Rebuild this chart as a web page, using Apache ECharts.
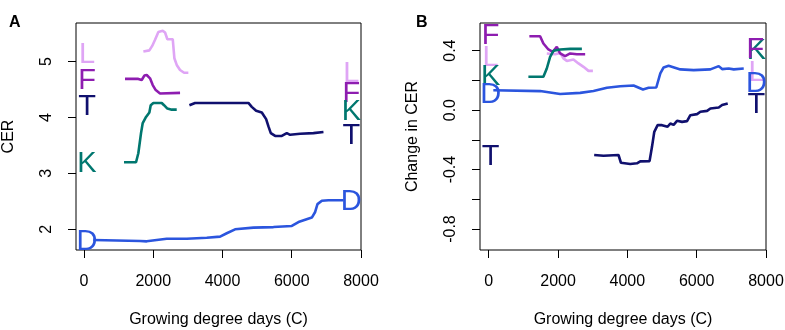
<!DOCTYPE html>
<html>
<head>
<meta charset="utf-8">
<script src="https://cdn.jsdelivr.net/npm/echarts@6/dist/echarts.min.js"></script>
<style>html,body{margin:0;padding:0;background:#fff}#c{width:785px;height:330px}</style>
</head>
<body>
<div id="c"></div>
<script>
// ---- tick labels ----
const xTicks = [0, 2000, 4000, 6000, 8000];
const yTicksA = [2, 3, 4, 5];
const yTicksB = [-0.8, -0.6, -0.4, -0.2, 0, 0.2, 0.4];
const yLabelsB = [-0.8, -0.4, 0, 0.4];

// ---- Panel A: CER ----
const cerL = [[1714,5.18],[1888,5.20],[1970,5.28],[2052,5.39],[2148,5.53],[2274,5.55],[2341,5.52],[2408,5.40],[2563,5.40],[2610,5.06],[2678,4.94],[2774,4.85],[2890,4.80],[3014,4.80]];
const cerF = [[1185,4.69],[1569,4.69],[1667,4.67],[1743,4.75],[1811,4.76],[1907,4.70],[1985,4.58],[2072,4.49],[2196,4.43],[2774,4.44]];
const cerK = [[1156,3.20],[1503,3.20],[1569,3.36],[1647,3.72],[1696,3.90],[1792,4.01],[1888,4.09],[1927,4.22],[2003,4.26],[2245,4.26],[2312,4.22],[2408,4.16],[2533,4.14],[2678,4.14]];
const cerT = [[3044,4.22],[3208,4.26],[3737,4.26],[4748,4.26],[4845,4.19],[4971,4.12],[5135,4.09],[5260,3.97],[5327,3.84],[5395,3.72],[5520,3.67],[5713,3.67],[5857,3.72],[5953,3.69],[6242,3.71],[6627,3.72],[6916,3.74]];
const cerD = [[269,1.81],[1618,1.79],[1811,1.785],[2389,1.83],[2967,1.83],[3545,1.85],[3930,1.87],[4123,1.93],[4364,2.00],[4893,2.03],[5471,2.04],[6002,2.06],[6194,2.13],[6580,2.21],[6676,2.31],[6743,2.45],[6869,2.51],[7061,2.52],[7494,2.52]];

// ---- Panel B: change in CER ----
const chgF = [[1173,0.497],[1483,0.497],[1578,0.448],[1722,0.408],[1850,0.392],[1965,0.426],[2061,0.381],[2205,0.363],[2350,0.381],[2543,0.376],[2783,0.376]];
const chgK = [[1145,0.224],[1578,0.224],[1676,0.28],[1772,0.358],[1867,0.399],[2061,0.408],[2350,0.412],[2688,0.412]];
const chgL = [[1676,0.381],[1916,0.376],[2061,0.385],[2156,0.348],[2254,0.331],[2445,0.341],[2590,0.314],[2734,0.291],[2879,0.264],[3006,0.264]];
const chgD = [[133,0.134],[1483,0.128],[2061,0.108],[2639,0.116],[3023,0.128],[3410,0.150],[3795,0.161],[4179,0.166],[4451,0.139],[4613,0.150],[4835,0.152],[4951,0.247],[5046,0.287],[5190,0.298],[5529,0.274],[5914,0.269],[6396,0.274],[6636,0.296],[6733,0.276],[6925,0.280],[7069,0.274],[7358,0.280]];
const chgT = [[3043,-0.302],[3312,-0.307],[3745,-0.302],[3815,-0.354],[4083,-0.363],[4277,-0.358],[4372,-0.345],[4641,-0.343],[4711,-0.247],[4777,-0.146],[4873,-0.101],[5000,-0.101],[5161,-0.112],[5240,-0.090],[5335,-0.099],[5433,-0.072],[5578,-0.079],[5722,-0.074],[5818,-0.034],[6011,-0.027],[6107,-0.011],[6300,-0.005],[6396,0.011],[6637,0.018],[6733,0.034],[6896,0.045]];

// ---- letter labels [letter, x, y] ----
const lettersA = [['L',87,5.16],['F',87,4.69],['T',87,4.22],['K',87,3.20],['D',87,1.81],
                  ['L',7720,4.81],['F',7720,4.455],['K',7720,4.13],['T',7720,3.71],['D',7720,2.52]];
const lettersB = [['L',55,0.363],['F',55,0.51],['K',55,0.235],['D',55,0.114],['T',55,-0.302],
                  ['L',7725,0.26],['K',7725,0.412],['F',7690,0.415],['D',7725,0.188],['T',7725,0.047]];

const colors = {L:'#DFA5F5', F:'#8E1DB0', T:'#10106E', K:'#00776F', D:'#2B55DE'};
const FONT = '"Liberation Sans", Arial, sans-serif';

function lineSeries(data, key, idx) {
  return {type:'line', xAxisIndex:idx, yAxisIndex:idx, data:data, showSymbol:false, symbol:'none',
          lineStyle:{color:colors[key], width:2.6}, itemStyle:{color:colors[key]}, animation:false, z:2};
}
function letterSeries(list, idx) {
  return {type:'custom', xAxisIndex:idx, yAxisIndex:idx, animation:false, z:3, clip:false,
    data:list.map(l => [l[1], l[2], l[0]]),
    renderItem:function(params, api) {
      const p = api.coord([api.value(0), api.value(1)]);
      const t = list[params.dataIndex][0];
      return {type:'text', x:p[0], y:p[1] + 2,
        style:{text:t, fill:colors[t], font:'29px ' + FONT, align:'center', verticalAlign:'middle'}};
    }};
}
function xAxis(idx, min) {
  return {type:'value', gridIndex:idx, min:min, max:8000,
    name:'Growing degree days (C)', nameLocation:'middle', nameGap:62,
    nameTextStyle:{fontSize:16, color:'#000', fontFamily:FONT},
    splitLine:{show:false}, axisLine:{show:false, onZero:false},
    axisTick:{show:true, length:8, lineStyle:{color:'#000'}, customValues:xTicks},
    axisLabel:{color:'#000', fontSize:16, fontFamily:FONT, margin:24, customValues:xTicks,
      formatter:v => String(v)}};
}

const option = {
  animation:false,
  title:[
    {text:'A', left:4, top:10, textStyle:{fontSize:16, fontWeight:'bold', color:'#000', fontFamily:FONT}},
    {text:'B', left:411, top:10, textStyle:{fontSize:16, fontWeight:'bold', color:'#000', fontFamily:FONT}}
  ],
  grid:[
    {left:76, top:23, width:285, height:227, show:true, borderColor:'#000', borderWidth:1, backgroundColor:'transparent', outerBoundsMode:'none', containLabel:false},
    {left:480, top:23, width:286, height:227, show:true, borderColor:'#000', borderWidth:1, backgroundColor:'transparent', outerBoundsMode:'none', containLabel:false}
  ],
  xAxis:[xAxis(0,-231), xAxis(1,-251)],
  yAxis:[
    {type:'value', gridIndex:0, min:1.63, max:5.69, name:'CER', nameLocation:'middle', nameGap:59, nameRotate:90,
     nameTextStyle:{fontSize:16, color:'#000', fontFamily:FONT},
     splitLine:{show:false}, axisLine:{show:false, onZero:false},
     axisTick:{show:true, length:8, lineStyle:{color:'#000'}, customValues:yTicksA},
     axisLabel:{color:'#000', fontSize:16, fontFamily:FONT, margin:21, rotate:90, customValues:yTicksA}},
    {type:'value', gridIndex:1, min:-0.941, max:0.586, name:'Change in CER', nameLocation:'middle', nameGap:59, nameRotate:90,
     nameTextStyle:{fontSize:16, color:'#000', fontFamily:FONT},
     splitLine:{show:false}, axisLine:{show:false, onZero:false},
     axisTick:{show:true, length:8, lineStyle:{color:'#000'}, customValues:yTicksB},
     axisLabel:{color:'#000', fontSize:16, fontFamily:FONT, margin:21, rotate:90, customValues:yLabelsB,
       formatter:v => v.toFixed(1)}}
  ],
  series:[
    lineSeries(cerL,'L',0), lineSeries(cerF,'F',0), lineSeries(cerK,'K',0), lineSeries(cerT,'T',0), lineSeries(cerD,'D',0),
    letterSeries(lettersA,0),
    lineSeries(chgL,'L',1), lineSeries(chgF,'F',1), lineSeries(chgK,'K',1), lineSeries(chgT,'T',1), lineSeries(chgD,'D',1),
    letterSeries(lettersB,1)
  ]
};
const chart = echarts.init(document.getElementById('c'), null, {renderer:'canvas'});
chart.setOption(option);
</script>
</body>
</html>
